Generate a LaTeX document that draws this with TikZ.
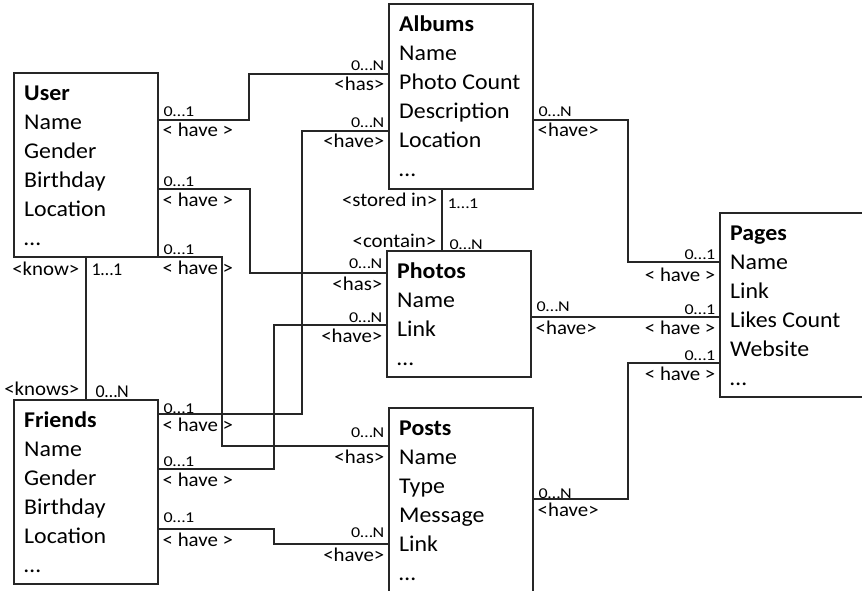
\documentclass[tikz,border=0pt]{standalone}
\usepackage{fontspec}
\setmainfont{Carlito}
\newfontfamily\entfont[FakeStretch=1.06]{Carlito}
\newfontfamily\relfont[FakeStretch=1.07]{Carlito}
\newfontfamily\cardfont[FakeStretch=1.2]{Carlito}
\usetikzlibrary{positioning}

\tikzset{
  entity/.style={draw=black!85, line width=1.3pt, minimum width=144pt, anchor=north west, inner sep=0pt, outer sep=0pt},
  attrs/.style={anchor=north west, inner sep=0pt, align=left, font=\entfont\fontsize{22.5}{29}\selectfont},
  link/.style={draw=black!85, line width=1.3pt},
  card/.style={font=\cardfont\fontsize{15}{18}\selectfont, inner sep=0pt},
  cardk/.style={font=\fontsize{18}{22}\selectfont, inner sep=0pt},
  rel/.style={font=\relfont\fontsize{19.5}{24}\selectfont, inner sep=0pt},
  cardR/.style={card, anchor=base west, xshift=5pt, yshift=3pt},
  relR/.style={rel, anchor=base west, xshift=4pt, yshift=-17pt},
  cardL/.style={card, anchor=base east, xshift=-4pt, yshift=3pt},
  relL/.style={rel, anchor=base east, xshift=-4pt, yshift=-17pt},
}

\begin{document}
\begin{tikzpicture}[x=1pt, y=-1pt]
\clip[use as bounding box] (0,0) rectangle (862,591);

% entities
\node[entity, minimum height=184pt] (user) at (14,73) {};
\node[entity, minimum height=184pt] (friends) at (14,400) {};
\node[entity, minimum height=185pt] (albums) at (389,4) {};
\node[entity, minimum height=126pt] (photos) at (387,251) {};
\node[entity, minimum height=200pt] (posts) at (389,408) {};
\node[entity, minimum height=184pt, minimum width=170pt] (pages) at (720,213) {};

\node[attrs] (user-t) at ([shift={(10,7)}]user.north west) {\strut\textbf{User}\\Name\\Gender\\Birthday\\Location\\…};
\node[attrs] (friends-t) at ([shift={(10,7)}]friends.north west) {\strut\textbf{Friends}\\Name\\Gender\\Birthday\\Location\\…};
\node[attrs] (albums-t) at ([shift={(10,7)}]albums.north west) {\strut\textbf{Albums}\\Name\\Photo Count\\Description\\Location\\…};
\node[attrs] (photos-t) at ([shift={(10,7)}]photos.north west) {\strut\textbf{Photos}\\Name\\Link\\…};
\node[attrs] (posts-t) at ([shift={(10,7)}]posts.north west) {\strut\textbf{Posts}\\Name\\Type\\Message\\Link\\…};
\node[attrs] (pages-t) at ([shift={(10,7)}]pages.north west) {\strut\textbf{Pages}\\Name\\Link\\Likes Count\\Website\\…};

% user
\draw[link] (user.east |- 0,120) node[cardR] (ua1) {0…1} node[relR] (ua2) {< have >}
  -| (249,74) -- (albums.west |- 0,74) node[cardL] (ua3) {0…N} node[relL] (ua4) {<has>};
\draw[link] (user.east |- 0,189) node[cardR] (up1) {0…1} node[relR] (up2) {< have >}
  -| (250,273) -- (photos.west |- 0,273) node[cardL, yshift=2pt] (up3) {0…N} node[relL] (up4) {<has>};
\draw[link] (user.south east) node[cardR] (us1) {0…1} node[relR] (us2) {< have >}
  -| (222,446) -- (posts.west |- 0,446) node[cardL, yshift=6pt] (us3) {0…N} node[relL] (us4) {<has>};
\draw[link] (user.south) node[rel, anchor=base east, xshift=-6pt, yshift=-18pt] (uf1) {<know>}
  node[cardk, anchor=base west, xshift=5pt, yshift=-18pt] (uf2) {1…1}
  -- (friends.north) node[rel, anchor=base east, xshift=-6pt, yshift=5pt] (uf3) {<knows>}
  node[cardk, anchor=base west, xshift=9pt, yshift=3pt] (uf4) {0…N};

% friends
\draw[link] (albums.west |- 0,131) node[cardL] (fa1) {0…N} node[relL] (fa2) {<have>}
  -| (302,414) -- (friends.east |- 0,414) node[cardR, yshift=-2pt] (fa3) {0…1} node[relR] (fa4) {< have >};
\draw[link] (friends.east |- 0,469) node[cardR] (fp1) {0…1} node[relR] (fp2) {< have >}
  -| (274,325) -- (photos.west |- 0,325) node[cardL] (fp3) {0…N} node[relL] (fp4) {<have>};
\draw[link] (friends.east |- 0,529) node[cardR, yshift=4pt] (fs1) {0…1} node[relR] (fs2) {< have >}
  -| (274,544) -- (posts.west |- 0,544) node[cardL, yshift=4pt] (fs3) {0…N} node[relL] (fs4) {<have>};

% albums, photos
\draw[link] (albums.south -| 442,0) node[rel, anchor=base east, xshift=-4pt, yshift=-17pt] (ap1) {<stored in>}
  node[card, anchor=base west, xshift=5pt, yshift=-19pt] (ap2) {1…1}
  -- (photos.north -| 442,0) node[rel, anchor=base east, xshift=-5pt, yshift=4pt] (ap3) {<contain>}
  node[card, anchor=base west, xshift=7pt, yshift=2pt] (ap4) {0…N};

% pages
\draw[link] (albums.east |- 0,120) node[cardR] (ag1) {0…N} node[relR] (ag2) {<have>}
  -| (628,262) -- (pages.west |- 0,262) node[cardL] (ag3) {0…1} node[relL, yshift=-2pt] (ag4) {< have >};
\draw[link] (photos.east |- 0,317) node[cardR, yshift=3pt] (pg1) {0…N} node[relR] (pg2) {<have>}
  -- (pages.west |- 0,317) node[cardL] (pg3) {0…1} node[relL] (pg4) {< have >};
\draw[link] (posts.east |- 0,499) node[cardR, yshift=-2pt] (sg1) {0…N} node[relR] (sg2) {<have>}
  -| (628,363) -- (pages.west |- 0,363) node[cardL] (sg3) {0…1} node[relL] (sg4) {< have >};

\end{tikzpicture}
\end{document}
